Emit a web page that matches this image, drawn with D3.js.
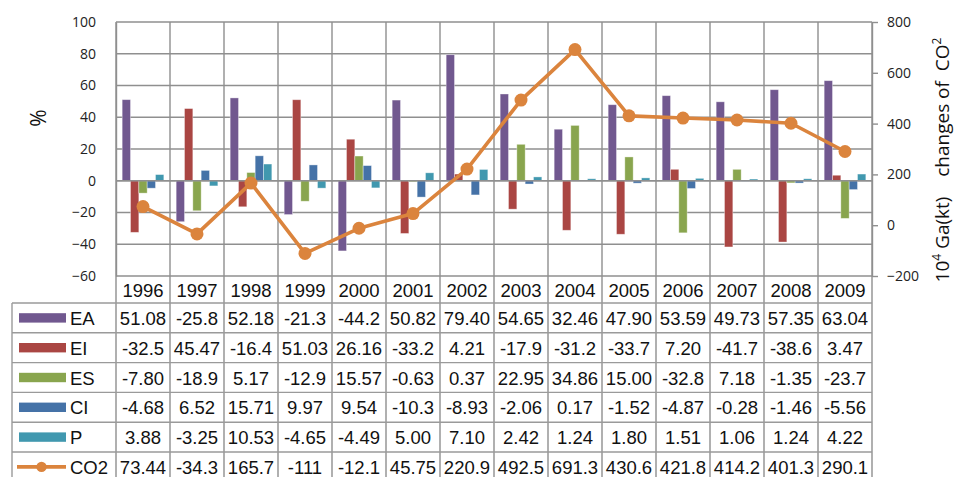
<!DOCTYPE html>
<html>
<head>
<meta charset="utf-8">
<script src="https://cdn.jsdelivr.net/npm/d3@7"></script>
<style>
  html, body { margin: 0; padding: 0; background: #fff; }
  svg { display: block; }
</style>
</head>
<body>
<svg id="chart" width="954" height="477"></svg>
<script>
// Decomposition of CO2 changes, 1996-2009
const years = ["1996","1997","1998","1999","2000","2001","2002","2003","2004","2005","2006","2007","2008","2009"];
const barKeys = ["EA","EI","ES","CI","P"];
const EA  = [51.08,-25.8,52.18,-21.3,-44.2,50.82,79.40,54.65,32.46,47.90,53.59,49.73,57.35,63.04];
const EI  = [-32.5,45.47,-16.4,51.03,26.16,-33.2,4.21,-17.9,-31.2,-33.7,7.20,-41.7,-38.6,3.47];
const ES  = [-7.80,-18.9,5.17,-12.9,15.57,-0.63,0.37,22.95,34.86,15.00,-32.8,7.18,-1.35,-23.7];
const CI  = [-4.68,6.52,15.71,9.97,9.54,-10.3,-8.93,-2.06,0.17,-1.52,-4.87,-0.28,-1.46,-5.56];
const P   = [3.88,-3.25,10.53,-4.65,-4.49,5.00,7.10,2.42,1.24,1.80,1.51,1.06,1.24,4.22];
const CO2 = [73.44,-34.3,165.7,-111,-12.1,45.75,220.9,492.5,691.3,430.6,421.8,414.2,401.3,290.1];

// Labels as printed in the data table
const tableText = {
  EA:  ["51.08","-25.8","52.18","-21.3","-44.2","50.82","79.40","54.65","32.46","47.90","53.59","49.73","57.35","63.04"],
  EI:  ["-32.5","45.47","-16.4","51.03","26.16","-33.2","4.21","-17.9","-31.2","-33.7","7.20","-41.7","-38.6","3.47"],
  ES:  ["-7.80","-18.9","5.17","-12.9","15.57","-0.63","0.37","22.95","34.86","15.00","-32.8","7.18","-1.35","-23.7"],
  CI:  ["-4.68","6.52","15.71","9.97","9.54","-10.3","-8.93","-2.06","0.17","-1.52","-4.87","-0.28","-1.46","-5.56"],
  P:   ["3.88","-3.25","10.53","-4.65","-4.49","5.00","7.10","2.42","1.24","1.80","1.51","1.06","1.24","4.22"],
  CO2: ["73.44","-34.3","165.7","-111","-12.1","45.75","220.9","492.5","691.3","430.6","421.8","414.2","401.3","290.1"]
};

const leftTicks  = [-60,-40,-20,0,20,40,60,80,100];
const rightTicks = [-200,0,200,400,600,800];

const seriesValues = { EA, EI, ES, CI, P };
const colors = { EA: "#71588F", EI: "#AA4643", ES: "#89A54E", CI: "#4572A7", P: "#4198AF", CO2: "#DB843D" };

const svg = d3.select("#chart");
const plot = { left: 116, right: 872, top: 22, bottom: 276 };
const gridColor = "#8f8f8f";
const tableColor = "#9a9a9a";
const axisFont = "'Open Sans', 'DejaVu Sans', sans-serif";
const tableFont = "'Liberation Sans', Arial, sans-serif";

const x = d3.scaleBand().domain(years).range([plot.left, plot.right]).padding(0);
const xs = d3.scaleBand().domain(barKeys).range([0, x.bandwidth()]).paddingInner(0).paddingOuter(0.74);
const yL = d3.scaleLinear().domain([-60, 100]).range([plot.bottom, plot.top]);
const yR = d3.scaleLinear().domain([-200, 800]).range([plot.bottom, plot.top]);

// Table rows geometry
const headerTop = plot.bottom, headerBottom = 303;
const rowH = 29.8;
const rowKeys = ["EA","EI","ES","CI","P","CO2"];
const rowTop = i => headerBottom + i * rowH;
const tableBottom = rowTop(rowKeys.length);
const legendLeft = 12;

// Horizontal gridlines
svg.append("g").selectAll("line").data(leftTicks).join("line")
  .attr("x1", plot.left).attr("x2", plot.right)
  .attr("y1", d => yL(d)).attr("y2", d => yL(d))
  .attr("stroke", gridColor).attr("stroke-width", 1.4);

// Vertical category boundaries, running through the data table
const bounds = years.map(y => x(y)).concat([plot.right]);
svg.append("g").selectAll("line").data(bounds).join("line")
  .attr("x1", d => d).attr("x2", d => d)
  .attr("y1", plot.top).attr("y2", tableBottom)
  .attr("stroke", gridColor).attr("stroke-width", 1.4);

// Bars
const barData = [];
years.forEach((yr, i) => barKeys.forEach(k => barData.push({ yr, k, v: seriesValues[k][i] })));
svg.append("g").selectAll("rect").data(barData).join("rect")
  .attr("x", d => x(d.yr) + xs(d.k))
  .attr("width", xs.bandwidth())
  .attr("y", d => Math.min(yL(d.v), yL(0)))
  .attr("height", d => Math.abs(yL(d.v) - yL(0)))
  .attr("fill", d => colors[d.k])
  .attr("stroke", "#ffffff").attr("stroke-opacity", 0.45).attr("stroke-width", 0.8);

// Zero line on top of bars
svg.append("line")
  .attr("x1", plot.left).attr("x2", plot.right)
  .attr("y1", yL(0)).attr("y2", yL(0))
  .attr("stroke", gridColor).attr("stroke-width", 1.4);

// Left axis
const gLeft = svg.append("g").attr("transform", `translate(${plot.left},0)`)
  .call(d3.axisLeft(yL).tickValues(leftTicks).tickSize(0).tickPadding(20));
gLeft.select(".domain").attr("stroke", gridColor).attr("stroke-width", 1.4);
gLeft.selectAll("text").attr("font-family", axisFont).attr("font-size", 14).attr("fill", "#222");

// Right axis
const gRight = svg.append("g").attr("transform", `translate(${plot.right},0)`)
  .call(d3.axisRight(yR).tickValues(rightTicks).tickSizeOuter(0).tickSizeInner(6).tickPadding(9));
gRight.select(".domain").attr("stroke", gridColor).attr("stroke-width", 1.4);
gRight.selectAll(".tick line").attr("stroke", gridColor).attr("stroke-width", 1.4);
gRight.selectAll("text").attr("font-family", axisFont).attr("font-size", 14).attr("fill", "#222");

// CO2 line with markers
const line = d3.line().x((d, i) => x(years[i]) + x.bandwidth() / 2).y(d => yR(d));
svg.append("path").datum(CO2)
  .attr("d", line).attr("fill", "none")
  .attr("stroke", colors.CO2).attr("stroke-width", 3.6).attr("stroke-linejoin", "round");
svg.append("g").selectAll("circle").data(CO2).join("circle")
  .attr("cx", (d, i) => x(years[i]) + x.bandwidth() / 2)
  .attr("cy", d => yR(d))
  .attr("r", 6.5).attr("fill", colors.CO2);

// Axis titles
svg.append("text")
  .attr("transform", "translate(46,118) rotate(-90)")
  .attr("text-anchor", "middle")
  .attr("font-family", axisFont).attr("font-size", 21).attr("fill", "#111")
  .text("%");

const rt = svg.append("text")
  .attr("transform", "translate(949,160) rotate(-90)")
  .attr("text-anchor", "middle")
  .attr("font-family", axisFont).attr("font-size", 19).attr("fill", "#111")
  .attr("xml:space", "preserve").style("white-space", "pre");
rt.append("tspan").text("10");
rt.append("tspan").attr("baseline-shift", "super").attr("font-size", 12).text("4");
rt.append("tspan").text(" Ga(kt)    changes of  CO");
rt.append("tspan").attr("baseline-shift", "super").attr("font-size", 12).text("2");

// Data table
const table = svg.append("g");
// header row (years)
table.selectAll("text.yr").data(years).join("text")
  .attr("class", "yr")
  .attr("x", d => x(d) + x.bandwidth() / 2)
  .attr("y", (headerTop + headerBottom) / 2 + 7)
  .attr("text-anchor", "middle")
  .attr("font-family", tableFont).attr("font-size", 18.5).attr("fill", "#111")
  .text(d => d);

// row separators
const rowLines = d3.range(rowKeys.length + 1).map(i => rowTop(i));
table.selectAll("line.row").data(rowLines).join("line")
  .attr("class", "row")
  .attr("x1", legendLeft).attr("x2", plot.right)
  .attr("y1", d => d).attr("y2", d => d)
  .attr("stroke", tableColor).attr("stroke-width", 1.4);
table.append("line")
  .attr("x1", legendLeft).attr("x2", legendLeft)
  .attr("y1", headerBottom).attr("y2", tableBottom)
  .attr("stroke", tableColor).attr("stroke-width", 1.4);

rowKeys.forEach((k, r) => {
  const top = rowTop(r), mid = top + rowH / 2;
  const g = table.append("g");
  if (k === "CO2") {
    g.append("line").attr("x1", 17).attr("x2", 66).attr("y1", mid).attr("y2", mid)
      .attr("stroke", colors.CO2).attr("stroke-width", 3.6);
    g.append("circle").attr("cx", 41.5).attr("cy", mid).attr("r", 5.2).attr("fill", colors.CO2);
  } else {
    g.append("rect").attr("x", 19).attr("y", mid - 4.7).attr("width", 47).attr("height", 9.4)
      .attr("fill", colors[k]);
  }
  g.append("text").attr("x", 70).attr("y", mid + 7)
    .attr("font-family", tableFont).attr("font-size", 18.5).attr("fill", "#111")
    .text(k);
  g.selectAll("text.val").data(tableText[k]).join("text")
    .attr("class", "val")
    .attr("x", (d, i) => x(years[i]) + x.bandwidth() / 2)
    .attr("y", mid + 7)
    .attr("text-anchor", "middle")
    .attr("font-family", tableFont).attr("font-size", 18.5).attr("fill", "#111")
    .text(d => d);
});
</script>
</body>
</html>
